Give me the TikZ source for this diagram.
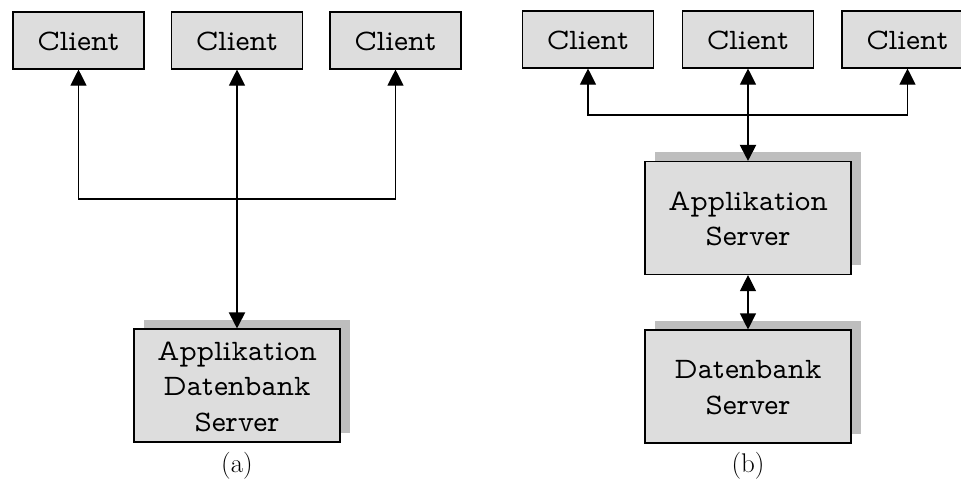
\documentclass[tikz,border=0pt]{standalone}
\usepackage{fontspec}
\usetikzlibrary{arrows.meta,calc}
\definecolor{boxgray}{gray}{0.867}
\definecolor{shadowgray}{gray}{0.745}
\setmainfont{Latin Modern Mono Prop}
\newfontfamily\capfont{Latin Modern Roman}
\newcommand\boxtext[1]{\vbox{\kern6pt\hbox{\begin{tabular}{@{}c@{}}#1\end{tabular}}}}
\tikzset{
  box/.style={draw=black,fill=boxgray,line width=1.1pt,inner sep=0pt,font=\fontsize{29.7}{35.5}\selectfont},
  clientbox/.style={box,minimum width=131pt,minimum height=57pt},
  serverbox/.style={box,minimum width=206pt,minimum height=113pt},
  shadowbox/.style={fill=shadowgray,inner sep=0pt,minimum width=206pt,minimum height=113pt},
  link/.style={line width=1.1pt,-{Triangle[length=16pt,width=16pt]}},
  linkk/.style={line width=2pt,-{Triangle[length=16pt,width=16pt]}},
  caption/.style={font=\fontsize{27}{30}\selectfont\capfont},
}
\begin{document}
\begin{tikzpicture}[x=1pt,y=-1pt]
\useasboundingbox (0,0) rectangle (961,479);
% (a)
\node[clientbox] (a1) at (78.5,40.5) {\boxtext{Client}};
\node[clientbox] (a2) at (237,40.5) {\boxtext{Client}};
\node[clientbox] (a3) at (395.5,40.5) {\boxtext{Client}};
\node[shadowbox] (as) at (247,376) {};
\node[serverbox] (as1) at (237,385.5) {\boxtext{Applikation\\Datenbank\\Server}};
\coordinate (aj) at (237,199);
\draw[link] (aj) -| (a1.south);
\draw[link] (aj) -| (a3.south);
\draw[link] (aj) -- (a2.south);
\draw[linkk] (aj) -- (as1.north);
\node[caption] (acap) at (237,466) {(a)};
% (b)
\node[clientbox] (b1) at (588,39.5) {\boxtext{Client}};
\node[clientbox] (b2) at (748,39.5) {\boxtext{Client}};
\node[clientbox] (b3) at (907.5,39.5) {\boxtext{Client}};
\node[shadowbox] (bs1s) at (758,208.5) {};
\node[serverbox] (bs1) at (748,218) {\boxtext{Applikation\\Server}};
\node[shadowbox] (bs2s) at (758,377.5) {};
\node[serverbox] (bs2) at (748,386.5) {\boxtext{Datenbank\\Server}};
\coordinate (bj) at (748,115);
\draw[link] (bj) -| (b1.south);
\draw[link] (bj) -| (b3.south);
\draw[link] (bj) -- (b2.south);
\draw[linkk] (bj) -- (bs1.north);
\draw[link,{Triangle[length=16pt,width=16pt]}-{Triangle[length=16pt,width=16pt]}] (bs1.south) -- (bs2.north);
\node[caption] (bcap) at (748,466) {(b)};
\end{tikzpicture}
\end{document}
